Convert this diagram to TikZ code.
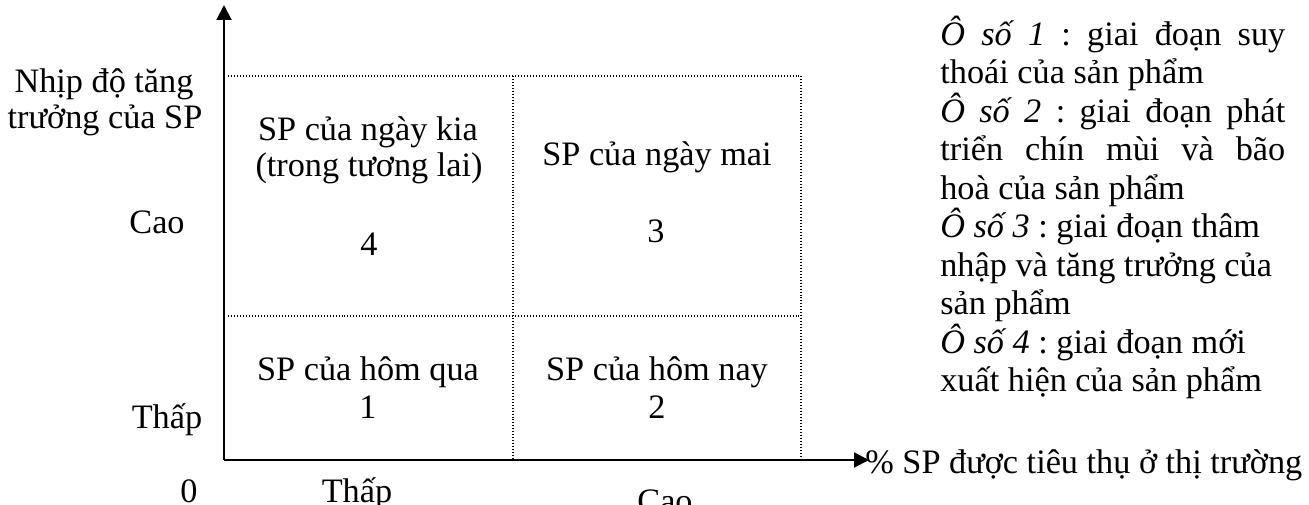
\documentclass[tikz,border=0pt]{standalone}
\usepackage{fontspec}
\setmainfont{Liberation Serif}
\usetikzlibrary{arrows.meta}
\frenchspacing

\tikzset{
  lbl/.style={inner sep=0pt, anchor=base, font=\fontsize{19.5}{22}\selectfont},
  rowtxt/.style={lbl, anchor=base west},
  cellline/.style={line width=0.6pt, dash pattern=on 0.5pt off 1.2pt},
  axisline/.style={line width=1.1pt, -{Triangle[length=0.3cm,width=0.3cm]}}
}

\begin{document}
\begin{tikzpicture}[x=0.02cm,y=-0.02cm]
        \useasboundingbox (0,0) rectangle (1309,504);

        \coordinate (o) at (224,460);
        \coordinate (ytip) at (224,5);
        \coordinate (xtip) at (869,460);

        % cac o vuong
        \draw[cellline] (228,76) -- (801,76) -- (801,460);
        \draw[cellline] (228,316) -- (801,316);
        \draw[cellline] (513,76) -- (513,460);

        \draw[axisline] (o) -- (ytip);
        \draw[axisline] (o) -- (xtip);

        \node[lbl, anchor=base west] (xname) at (865,473) {\% SP được tiêu thụ ở thị trường};
        \node[lbl] (yname1) at (104,92) {Nhịp độ tăng};
        \node[lbl] (yname2) at (105,128) {trưởng của SP};
        \node[lbl] (ycao) at (157,233) {Cao};
        \node[lbl] (ythap) at (167,428) {Thấp};
        \node[lbl] (zero) at (189,502) {0};
        \node[lbl] (xthap) at (357,502) {Thấp};
        \node[lbl] (xcao) at (665,512) {Cao};

        % noi dung o
        \node[lbl] (c4a) at (368,140) {SP của ngày kia};
        \node[lbl] (c4b) at (369,176) {(trong tương lai)};
        \node[lbl] (c4) at (369,255) {4};
        \node[lbl] (c3a) at (657,165) {SP của ngày mai};
        \node[lbl] (c3) at (656,242) {3};
        \node[lbl] (c1a) at (368,380) {SP của hôm qua};
        \node[lbl] (c1) at (368,418) {1};
        \node[lbl] (c2a) at (657,380) {SP của hôm nay};
        \node[lbl] (c2) at (657,418) {2};

        % chu thich
        \node[rowtxt] (r1) at (940,45) {\makebox[6.9cm][s]{\textit{Ô số 1} : giai đoạn suy}};
        \node[rowtxt] (r2) at (940,83.5) {thoái của sản phẩm};
        \node[rowtxt] (r3) at (940,122) {\makebox[6.9cm][s]{\textit{Ô số 2} : giai đoạn phát}};
        \node[rowtxt] (r4) at (940,160.5) {\makebox[6.9cm][s]{triển chín mùi và bão}};
        \node[rowtxt] (r5) at (940,199) {hoà của sản phẩm};
        \node[rowtxt] (r6) at (940,237.5) {\textit{Ô số 3} : giai đoạn thâm};
        \node[rowtxt] (r7) at (940,276) {nhập và tăng trưởng của};
        \node[rowtxt] (r8) at (940,314.5) {sản phẩm};
        \node[rowtxt] (r9) at (940,353) {\textit{Ô số 4} : giai đoạn mới};
        \node[rowtxt] (r10) at (940,391.5) {xuất hiện của sản phẩm};
\end{tikzpicture}
\end{document}
